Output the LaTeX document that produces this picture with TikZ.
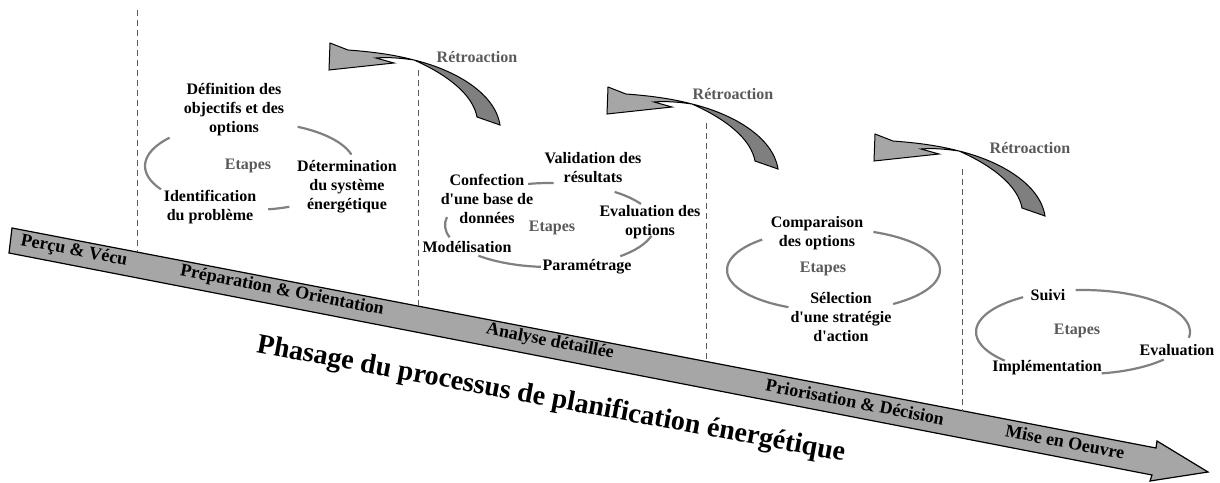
\documentclass[tikz,border=0pt]{standalone}
\usepackage{tikz}
\usepackage{fontspec}
\setmainfont{Liberation Serif}
\definecolor{barfill}{HTML}{A6A6A6}
\definecolor{tailfill}{HTML}{7F7F7F}
\definecolor{arcgray}{HTML}{808080}
\definecolor{stepgray}{HTML}{5A5A5A}
\newcommand{\retroarrow}[1]{%
  \begin{scope}[shift={#1}]
    \filldraw[fill=tailfill, line width=0.5pt] (84,17) .. controls (125,27) and (165,50) .. (170,82) -- (147,74) .. controls (143,52) and (118,32) .. (84,17) -- cycle;
    \filldraw[fill=barfill, line width=0.5pt] (0,0) -- (18,7) .. controls (45,9) and (65,12) .. (84,17) .. controls (70,15) and (58,14) .. (46,15) -- (64,20) -- (-1,27) -- cycle;
  \end{scope}}

\begin{document}
\begin{tikzpicture}[x=0.5pt, y=-0.5pt,
    lbl/.style={font=\fontsize{8}{9.5}\selectfont\bfseries, align=center, inner sep=0pt},
    greylbl/.style={lbl, text=stepgray},
    phase/.style={font=\fontsize{9}{10}\selectfont\bfseries, rotate=-10.9, inner sep=0pt},
    cyclearc/.style={draw=arcgray, line width=1.1pt},
    divider/.style={densely dashed, draw=black!65, line width=0.4pt}]
\useasboundingbox (0,0) rectangle (1220,482);

% barre des phases
\filldraw[fill=barfill, line width=0.6pt] (12,228) -- (1156,448) -- (1157,441) -- (1208,472) -- (1150,481) -- (1152,475) -- (9,253) -- cycle;

% separations
\foreach \x/\ya/\yb in {137/10/252, 418/70/306, 706/123/361.5, 962/169/410.7}
  \draw[divider] (\x,\ya) -- (\x,\yb);

% retroactions
\retroarrow{(330,43)}
\retroarrow{(608,87)}
\retroarrow{(875,134)}
\node[greylbl] (retro1) at (477,57) {Rétroaction};
\node[greylbl] (retro2) at (733,94) {Rétroaction};
\node[greylbl] (retro3) at (1030,148) {Rétroaction};

% cycle 1
\coordinate (c1) at (250,166);
\draw[cyclearc] (c1) ++(-140:105 and 44) arc[start angle=-140, end angle=-212, x radius=105, y radius=44];
\draw[cyclearc] (c1) ++(-15:105 and 44) arc[start angle=-15, end angle=-63, x radius=105, y radius=44];
\draw[cyclearc] (c1) ++(-280:105 and 44) arc[start angle=-280, end angle=-292, x radius=105, y radius=44];
\node[lbl] (defin) at (234,110) {Définition des\\objectifs et des\\options};
\node[greylbl] (etapes1) at (248,166) {Etapes};
\node[lbl] (determ) at (347,187) {Détermination\\du système\\énergétique};
\node[lbl] (ident) at (210,207.5) {Identification\\du problème};

% cycle 2
\coordinate (c2) at (550,225);
\draw[cyclearc] (c2) ++(-88:105 and 42) arc[start angle=-88, end angle=-102, x radius=105, y radius=42];
\draw[cyclearc] (c2) ++(-30:105 and 42) arc[start angle=-30, end angle=-52, x radius=105, y radius=42];
\draw[cyclearc] (c2) ++(48:105 and 42) arc[start angle=48, end angle=15, x radius=105, y radius=42];
\draw[cyclearc] (c2) ++(-227:105 and 42) arc[start angle=-227, end angle=-265, x radius=105, y radius=42];
\draw[cyclearc] (c2) ++(-169:105 and 42) arc[start angle=-169, end angle=-197, x radius=105, y radius=42];
\node[lbl] (valid) at (593,168) {Validation des\\résultats};
\node[lbl] (confec) at (487,199) {Confection\\d\textquotesingle une base de\\données};
\node[greylbl] (etapes2) at (552,228) {Etapes};
\node[lbl] (evalopt) at (650,222.5) {Evaluation des\\options};
\node[lbl] (model) at (467,247) {Modélisation};
\node[lbl] (param) at (587,267) {Paramétrage};

% cycle 3
\coordinate (c3) at (833.5,270);
\draw[cyclearc] (c3) ++(-132:106.5 and 41) arc[start angle=-132, end angle=-245, x radius=106.5, y radius=41];
\draw[cyclearc] (c3) ++(-68:106.5 and 41) arc[start angle=-68, end angle=56, x radius=106.5, y radius=41];
\node[lbl] (compar) at (817,233.5) {Comparaison\\des options};
\node[greylbl] (etapes3) at (823,269) {Etapes};
\node[lbl] (select) at (841,317) {Sélection\\d\textquotesingle une stratégie\\d\textquotesingle action};

% cycle 4
\coordinate (c4) at (1083,332);
\draw[cyclearc] (c4) ++(-94:107 and 42) arc[start angle=-94, end angle=8, x radius=107, y radius=42];
\draw[cyclearc] (c4) ++(-124:107 and 42) arc[start angle=-124, end angle=-223, x radius=107, y radius=42];
\draw[cyclearc] (c4) ++(-280:107 and 42) arc[start angle=-280, end angle=-319, x radius=107, y radius=42];
\node[lbl] (suivi) at (1048,295) {Suivi};
\node[greylbl] (etapes4) at (1077,331) {Etapes};
\node[lbl] (evalu) at (1177,350) {Evaluation};
\node[lbl] (implem) at (1047,368) {Implémentation};

% phases
\node[phase] (percu) at (74,251) {Perçu \& Vécu};
\node[phase] (prepa) at (282,291) {Préparation \& Orientation};
\node[phase] (analyse) at (550,342) {Analyse détaillée};
\node[phase] (prior) at (855,402) {Priorisation \& Décision};
\node[phase] (mise) at (1065,442) {Mise en Oeuvre};

\node[font=\fontsize{14}{16}\selectfont\bfseries, rotate=-10.5, inner sep=0pt] (titre) at (551,400) {Phasage du processus de planification énergétique};
\end{tikzpicture}
\end{document}
